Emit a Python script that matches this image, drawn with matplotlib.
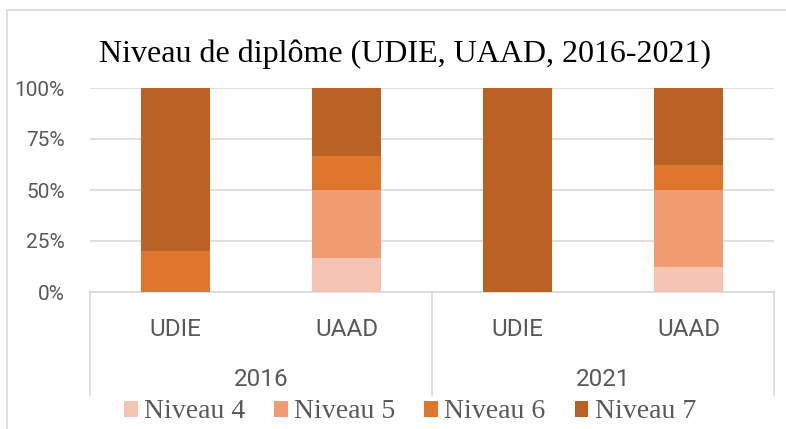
import matplotlib
matplotlib.use("Agg")
import matplotlib.pyplot as plt
from matplotlib.patches import Rectangle
import numpy as np

years = ["2016", "2021"]
units = ["UDIE", "UAAD", "UDIE", "UAAD"]
series_names = ["Niveau 4", "Niveau 5", "Niveau 6", "Niveau 7"]
niveau4 = [0.0, 16.7, 0.0, 12.5]
niveau5 = [0.0, 33.3, 0.0, 37.5]
niveau6 = [20.0, 16.7, 0.0, 12.5]
niveau7 = [80.0, 33.3, 100.0, 37.5]
colors = ["#F5C4B2", "#F09B72", "#DF762E", "#BA6124"]
yticks = [0, 25, 50, 75, 100]
ytick_labels = ["0%", "25%", "50%", "75%", "100%"]

W, H = 786, 429
fig = plt.figure(figsize=(W / 100, H / 100), dpi=100)
fig.patch.set_facecolor("white")

# chart border
fig.add_artist(Rectangle((7 / W, -0.1), 1.2, (H - 10) / H + 0.1,
                         transform=fig.transFigure, fill=False,
                         edgecolor="#D9D9D9", linewidth=1.2))

left, right, top, bottom = 90, 774, 88, 292
ax = fig.add_axes([left / W, (H - bottom) / H, (right - left) / W, (bottom - top) / H])
x = np.arange(len(units))
bottoms = np.zeros(len(units))
handles = []
for name, vals, c in zip(series_names, [niveau4, niveau5, niveau6, niveau7], colors):
    h = ax.bar(x, vals, width=0.4, bottom=bottoms, color=c, label=name, zorder=3)
    handles.append(h)
    bottoms += np.array(vals)

ax.set_xlim(-0.5, len(units) - 0.5)
ax.set_ylim(0, 100)
ax.set_yticks(yticks)
ax.set_yticklabels(ytick_labels)
ax.yaxis.grid(True, color="#D9D9D9", linewidth=1.2, zorder=0)
ax.set_xticks([])
for s in ["top", "right", "left"]:
    ax.spines[s].set_visible(False)
ax.spines["bottom"].set_color("#D9D9D9")
ax.spines["bottom"].set_linewidth(1.2)
ax.tick_params(axis="y", length=0, pad=18, labelsize=15, labelcolor="#595959")
for lbl in ax.get_yticklabels():
    lbl.set_family(["Roboto", "DejaVu Sans"])

# category axis
trans = ax.get_xaxis_transform()
ph = bottom - top
sep_bottom = -(395 - bottom) / ph
for xs in [-0.5, 1.5, 3.5]:
    ax.plot([xs, xs], [0, sep_bottom], transform=trans, color="#D9D9D9",
            linewidth=1.2, clip_on=False)
unit_y = -(336 - bottom) / ph
year_y = -(386 - bottom) / ph
for xi, u in zip(x, units):
    ax.text(xi, unit_y, u, transform=trans, ha="center", va="baseline",
            fontsize=17.5, color="#595959", family=["Roboto", "DejaVu Sans"])
for i, yr in enumerate(years):
    ax.text(2 * i + 0.5, year_y, yr, transform=trans, ha="center", va="baseline",
            fontsize=17.5, color="#595959", family=["Roboto", "DejaVu Sans"])

fig.text(405 / W, 1 - 62 / H, "Niveau de diplôme (UDIE, UAAD, 2016-2021)",
         ha="center", va="baseline", fontsize=23, family="Liberation Serif", color="#000000")

leg = fig.legend(handles=handles, labels=series_names, loc="center",
                 bbox_to_anchor=(410 / W, 1 - 412 / H), ncol=4, frameon=False,
                 prop={"family": "Liberation Serif", "size": 20},
                 handlelength=0.5, handleheight=0.5, handletextpad=0.22,
                 columnspacing=1.04, borderpad=0, borderaxespad=0)
for t in leg.get_texts():
    t.set_color("#595959")

fig.savefig("out.png", dpi=100)
